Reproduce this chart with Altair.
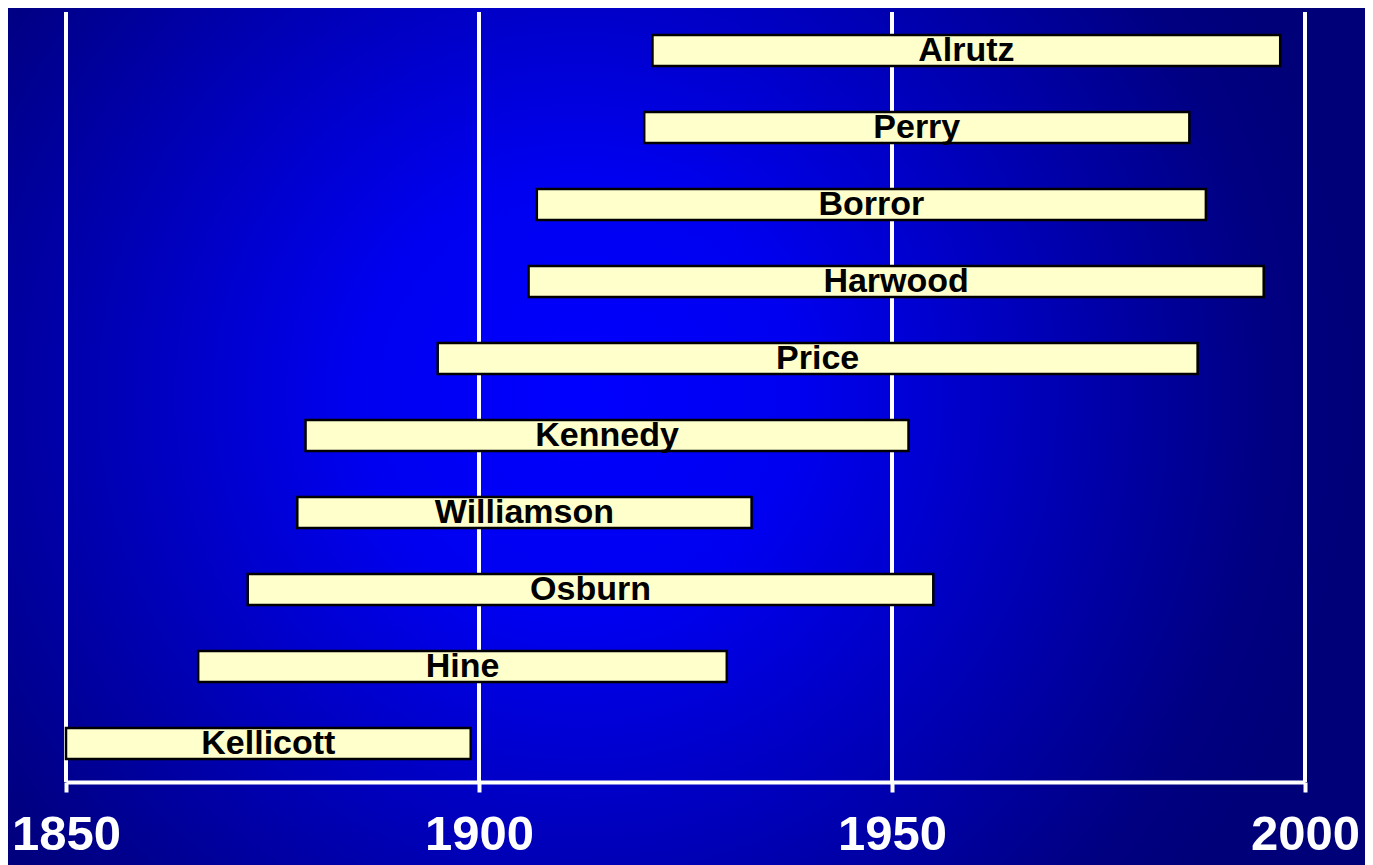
import altair as alt
import pandas as pd

names = ["Alrutz", "Perry", "Borror", "Harwood", "Price", "Kennedy",
         "Williamson", "Osburn", "Hine", "Kellicott"]
start_year = [1921, 1920, 1907, 1906, 1895, 1879, 1878, 1872, 1866, 1850]
end_year = [1997, 1986, 1988, 1995, 1987, 1952, 1933, 1955, 1930, 1899]
tick_years = [1850, 1900, 1950, 2000]

df = pd.DataFrame({"name": names, "start": start_year, "end": end_year})
df["mid"] = (df["start"] + df["end"]) / 2
grid_df = pd.DataFrame({"year": tick_years})

W, H = 1239, 770
PAD = {"left": 58, "top": 4, "right": 60, "bottom": 83}

xscale = alt.Scale(domain=[1850, 2000], nice=False, zero=False)
yscale = alt.Scale(domain=names, paddingInner=0.6, paddingOuter=0.3)

bg = alt.Chart(pd.DataFrame({"a": [0]})).mark_rect(
    fill=alt.Gradient(
        gradient="radial",
        stops=[
            alt.GradientStop(offset=0, color="#0000FF"),
            alt.GradientStop(offset=0.28, color="#0000F0"),
            alt.GradientStop(offset=0.88, color="#000082"),
            alt.GradientStop(offset=1, color="#000078"),
        ],
        x1=0.42, y1=0.47, r1=0, x2=0.42, y2=0.47, r2=0.58,
    )
).encode(
    x=alt.value(-PAD["left"]), x2=alt.value(W + PAD["right"]),
    y=alt.value(-PAD["top"]), y2=alt.value(H + PAD["bottom"]),
)

grid = alt.Chart(grid_df).mark_rule(color="white", strokeWidth=4).encode(
    x=alt.X("year:Q", scale=xscale,
            axis=alt.Axis(values=tick_years, format="d", title=None,
                          grid=False, zindex=1,
                          domainColor="white", domainWidth=4,
                          tickColor="white", tickWidth=4, tickSize=10,
                          labelColor="white", labelFont="Liberation Sans",
                          labelFontWeight="bold", labelFontSize=49,
                          labelPadding=18, labelFlush=False, labelOverlap=False)),
    y=alt.value(0),
    y2=alt.value(H),
)

bars = alt.Chart(df).mark_bar(
    fill="#FFFFCC", stroke="black", strokeWidth=2.5, cornerRadius=0
).encode(
    x=alt.X("start:Q", scale=xscale),
    x2="end:Q",
    y=alt.Y("name:N", scale=yscale, sort=names, axis=None),
)

labels = alt.Chart(df).mark_text(
    font="Liberation Sans", fontWeight="bold", fontSize=34, color="black",
    align="center", baseline="middle"
).encode(
    x=alt.X("mid:Q", scale=xscale),
    y=alt.Y("name:N", scale=yscale, sort=names),
    text="name:N",
)

chart = alt.layer(bg, grid, bars, labels).properties(
    width=W, height=H,
    autosize=alt.AutoSizeParams(type="none"),
    padding=PAD,
    background="#00007A",
).configure_view(stroke=None)

chart.save("out.html", embed_options={"renderer": "svg", "actions": False})
